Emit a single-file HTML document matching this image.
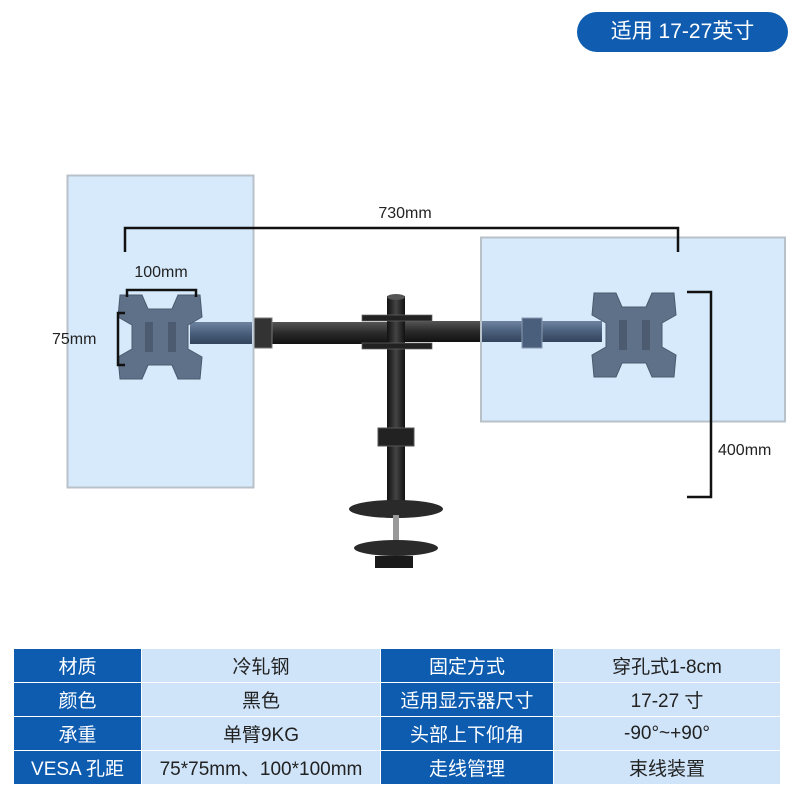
<!DOCTYPE html>
<html><head><meta charset="utf-8"><style>
body{margin:0;width:800px;height:800px;background:#fff;overflow:hidden;position:relative;font-family:"Liberation Sans","Noto Sans CJK SC",sans-serif}
.pill{position:absolute;left:577px;top:12px;width:211px;height:40px;border-radius:20px;background:#0f5cb0;color:#fff;font-size:21px;line-height:40px;text-align:center}
table{position:absolute;left:13px;top:648px;border-collapse:collapse}
td{height:33px;padding:0;font-size:19px;text-align:center;border:1px solid #fff;color:#222}
td.h{background:#0d5cb0;color:#fff}
td.v{background:#cfe4f9}
</style></head><body>
<svg width="800" height="640" style="position:absolute;left:0;top:0" font-family="Liberation Sans, Noto Sans CJK SC, sans-serif">
<defs>
<linearGradient id="arm" x1="0" y1="0" x2="0" y2="1"><stop offset="0" stop-color="#555"/><stop offset="0.5" stop-color="#2a2a2a"/><stop offset="1" stop-color="#111"/></linearGradient>
<linearGradient id="barm" x1="0" y1="0" x2="0" y2="1"><stop offset="0" stop-color="#6f84a0"/><stop offset="0.5" stop-color="#4a5f7c"/><stop offset="1" stop-color="#33445c"/></linearGradient>
<linearGradient id="pole" x1="0" y1="0" x2="1" y2="0"><stop offset="0" stop-color="#111"/><stop offset="0.5" stop-color="#444"/><stop offset="1" stop-color="#111"/></linearGradient>
</defs>
<!-- arms -->
<rect x="253" y="322" width="137" height="22" fill="url(#arm)"/>
<rect x="400" y="321" width="82" height="21" fill="url(#arm)"/>
<rect x="252" y="318" width="20" height="30" fill="#333" stroke="#777"/>
<!-- pole -->
<rect x="387" y="296" width="18" height="210" fill="url(#pole)"/>
<ellipse cx="396" cy="297" rx="9" ry="3" fill="#555"/>
<rect x="362" y="315" width="70" height="6" fill="#222" stroke="#666" stroke-width="0.7"/>
<rect x="362" y="343" width="70" height="6" fill="#222" stroke="#666" stroke-width="0.7"/>
<rect x="378" y="428" width="36" height="18" fill="#222" stroke="#555"/>
<ellipse cx="396" cy="509" rx="47" ry="9" fill="#2a2a2a"/>
<rect x="393" y="515" width="6" height="30" fill="#999"/>
<ellipse cx="396" cy="548" rx="42" ry="8" fill="#2a2a2a"/>
<rect x="375" y="556" width="38" height="12" fill="#1a1a1a"/>
<!-- panels -->
<rect x="67.5" y="175.5" width="186" height="312" fill="#d7eafc" stroke="#b8c0c8" stroke-width="2"/>
<rect x="481" y="237.5" width="304" height="184" fill="#d7eafc" stroke="#b8c0c8" stroke-width="2"/>
<!-- arm portions inside panels -->
<rect x="190" y="322" width="62" height="22" fill="url(#barm)"/>
<rect x="482" y="321" width="120" height="21" fill="url(#barm)"/>
<rect x="522" y="318" width="20" height="30" fill="#4a5f7c" stroke="#8a9ab0"/>
<!-- plates -->
<g fill="#5f7189" stroke="#4b5a6e" stroke-width="1">
<polygon transform="translate(118,295)" points="2,0 24,0 30,14 54,14 60,0 82,0 84,22 70,30 70,54 84,62 82,84 60,84 54,70 30,70 24,84 2,84 0,62 14,54 14,30 0,22"/>
<polygon transform="translate(592,293)" points="2,0 24,0 30,14 54,14 60,0 82,0 84,22 70,30 70,54 84,62 82,84 60,84 54,70 30,70 24,84 2,84 0,62 14,54 14,30 0,22"/>
</g>
<g fill="#4c5b70"><rect x="145" y="322" width="8" height="30"/><rect x="168" y="322" width="8" height="30"/><rect x="619" y="320" width="8" height="30"/><rect x="642" y="320" width="8" height="30"/></g>
<!-- dimension lines -->
<g stroke="#111" stroke-width="2.5" fill="none">
<polyline points="125,252 125,228 678,228 678,252"/>
<polyline points="127,297 127,290 196,290 196,297"/>
<polyline points="125,313 118,313 118,365 125,365"/>
<polyline points="687,292 711,292 711,497 687,497"/>
</g>
<g font-size="16" fill="#222">
<text x="405" y="218" text-anchor="middle">730mm</text>
<text x="161" y="277" text-anchor="middle">100mm</text>
<text x="52" y="344">75mm</text>
<text x="718" y="455">400mm</text>
</g>
</svg>
<div class="pill">适用 17-27英寸</div>
<table>
<tr><td class="h" style="width:127px">材质</td><td class="v" style="width:238px">冷轧钢</td><td class="h" style="width:172px">固定方式</td><td class="v" style="width:226px">穿孔式1-8cm</td></tr>
<tr><td class="h">颜色</td><td class="v">黑色</td><td class="h">适用显示器尺寸</td><td class="v">17-27 寸</td></tr>
<tr><td class="h">承重</td><td class="v">单臂9KG</td><td class="h">头部上下仰角</td><td class="v">-90°~+90°</td></tr>
<tr><td class="h">VESA 孔距</td><td class="v">75*75mm、100*100mm</td><td class="h">走线管理</td><td class="v">束线装置</td></tr>
</table>
</body></html>
